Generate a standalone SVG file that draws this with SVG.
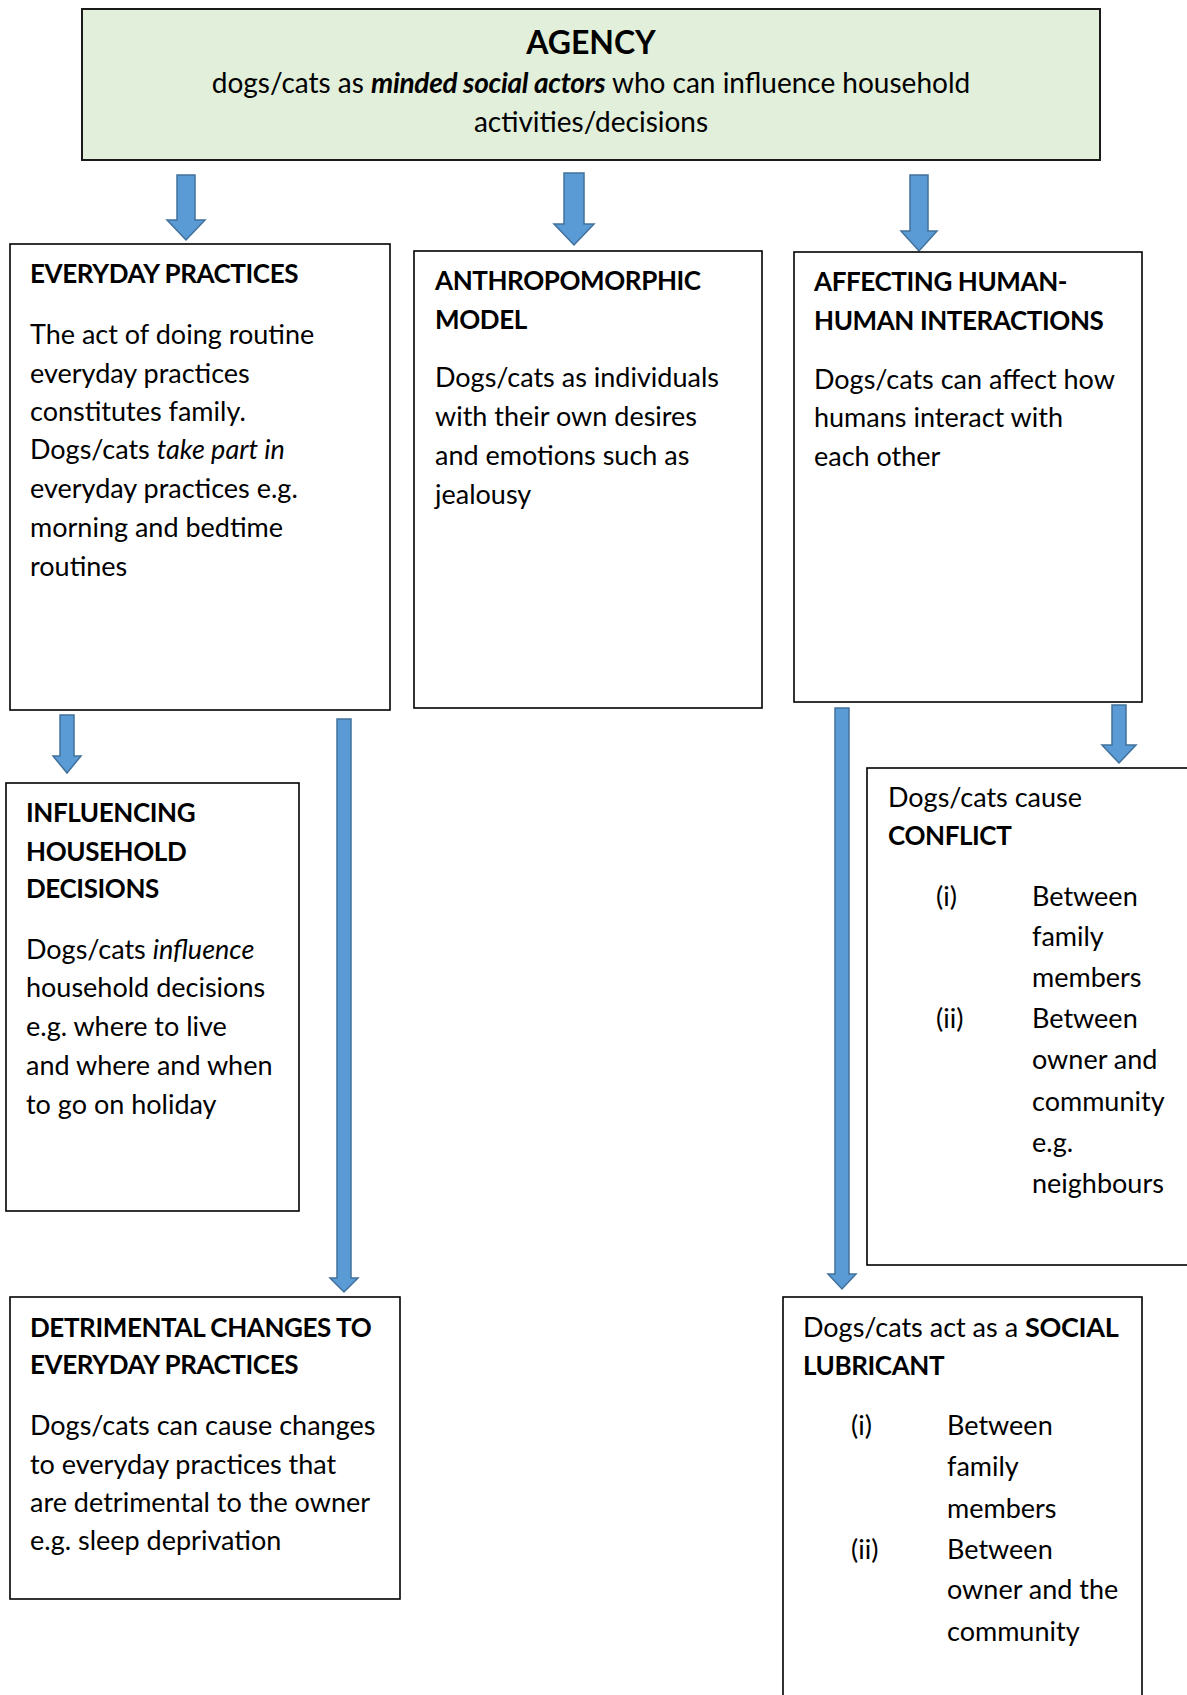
<svg xmlns="http://www.w3.org/2000/svg" width="1187" height="1695" viewBox="0 0 1187 1695">
  <style>
    text { font-family: Lato, "Noto Sans", sans-serif; font-size: 27px; fill: #000; }
    .b { font-weight: bold; font-size: 26px; letter-spacing: -0.4px; }
    tspan.b { font-size: inherit; letter-spacing: -0.3px; }
    .i { font-style: italic; }
    .box { fill: #fff; stroke: #000; stroke-width: 1.6; }
    .top { fill: #e2efda; stroke: #1a1a1a; stroke-width: 2; }
    .arrow { fill: #5b9bd5; stroke: #41719c; stroke-width: 1.5; }
  </style>
  <rect width="1187" height="1695" fill="#fff"/>

  <!-- block arrows -->
  <g id="connectors">
    <polygon class="arrow" points="177,175 195,175 195,220 205,220 186,240 167,220 177,220"/>
    <polygon class="arrow" points="564,173 584,173 584,224 594,224 574,245 554,224 564,224"/>
    <polygon class="arrow" points="910,175 928,175 928,231 937,231 919,251 901,231 910,231"/>
    <polygon class="arrow" points="60,715 74,715 74,756 81,756 67,773 53,756 60,756"/>
    <polygon class="arrow" points="337,719 351,719 351,1278 358,1278 344,1292 330,1278 337,1278"/>
    <polygon class="arrow" points="835,708 849,708 849,1274 856,1274 842,1289 828,1274 835,1274"/>
    <polygon class="arrow" points="1112,705 1126,705 1126,745 1136,745 1119,763 1102,745 1112,745"/>
  </g>

  <g id="agency">
    <rect class="top" x="82" y="9" width="1018" height="151"/>
    <text x="591" y="54" text-anchor="middle" style="font-weight:bold;font-size:32px">AGENCY</text>
    <text x="591" y="93" text-anchor="middle" style="font-size:28px">dogs/cats as <tspan class="b i">minded social actors</tspan> who can influence household</text>
    <text x="591" y="132" text-anchor="middle" style="font-size:28px">activities/decisions</text>
  </g>

  <g id="everyday-practices">
    <rect class="box" x="10" y="244" width="380" height="466"/>
    <text x="30" y="283" class="b">EVERYDAY PRACTICES</text>
    <text x="30" y="344">The act of doing routine</text>
    <text x="30" y="383">everyday practices</text>
    <text x="30" y="421">constitutes family.</text>
    <text x="30" y="459">Dogs/cats <tspan class="i">take part in</tspan></text>
    <text x="30" y="498">everyday practices e.g.</text>
    <text x="30" y="537">morning and bedtime</text>
    <text x="30" y="576">routines</text>
  </g>

  <g id="anthropomorphic-model">
    <rect class="box" x="414" y="251" width="348" height="457"/>
    <text x="435" y="290" class="b">ANTHROPOMORPHIC</text>
    <text x="435" y="329" class="b">MODEL</text>
    <text x="435" y="387">Dogs/cats as individuals</text>
    <text x="435" y="426">with their own desires</text>
    <text x="435" y="465">and emotions such as</text>
    <text x="435" y="504">jealousy</text>
  </g>

  <g id="affecting-interactions">
    <rect class="box" x="794" y="252" width="348" height="450"/>
    <text x="814" y="291" class="b">AFFECTING HUMAN-</text>
    <text x="814" y="330" class="b">HUMAN INTERACTIONS</text>
    <text x="814" y="389">Dogs/cats can affect how</text>
    <text x="814" y="427">humans interact with</text>
    <text x="814" y="466">each other</text>
  </g>

  <g id="household-decisions">
    <rect class="box" x="6" y="783" width="293" height="428"/>
    <text x="26" y="822" class="b">INFLUENCING</text>
    <text x="26" y="861" class="b">HOUSEHOLD</text>
    <text x="26" y="898" class="b">DECISIONS</text>
    <text x="26" y="959">Dogs/cats <tspan class="i">influence</tspan></text>
    <text x="26" y="997">household decisions</text>
    <text x="26" y="1036">e.g. where to live</text>
    <text x="26" y="1075">and where and when</text>
    <text x="26" y="1114">to go on holiday</text>
  </g>

  <g id="conflict">
    <rect class="box" x="867" y="768" width="330" height="497"/>
    <text x="888" y="807">Dogs/cats cause</text>
    <text x="888" y="845" class="b">CONFLICT</text>
    <text x="936" y="906">(i)</text>
    <text x="1032" y="906">Between</text>
    <text x="1032" y="946">family</text>
    <text x="1032" y="987">members</text>
    <text x="936" y="1028">(ii)</text>
    <text x="1032" y="1028">Between</text>
    <text x="1032" y="1069">owner and</text>
    <text x="1032" y="1111">community</text>
    <text x="1032" y="1152">e.g.</text>
    <text x="1032" y="1193">neighbours</text>
  </g>

  <g id="detrimental-changes">
    <rect class="box" x="10" y="1297" width="390" height="302"/>
    <text x="30" y="1337" class="b">DETRIMENTAL CHANGES TO</text>
    <text x="30" y="1374" class="b">EVERYDAY PRACTICES</text>
    <text x="30" y="1435">Dogs/cats can cause changes</text>
    <text x="30" y="1474">to everyday practices that</text>
    <text x="30" y="1512">are detrimental to the owner</text>
    <text x="30" y="1550">e.g. sleep deprivation</text>
  </g>

  <g id="social-lubricant">
    <rect class="box" x="783" y="1297" width="359" height="420"/>
    <text x="803" y="1337">Dogs/cats act as a <tspan class="b">SOCIAL</tspan></text>
    <text x="803" y="1375" class="b">LUBRICANT</text>
    <text x="851" y="1435">(i)</text>
    <text x="947" y="1435">Between</text>
    <text x="947" y="1476">family</text>
    <text x="947" y="1518">members</text>
    <text x="851" y="1559">(ii)</text>
    <text x="947" y="1559">Between</text>
    <text x="947" y="1599">owner and the</text>
    <text x="947" y="1641">community</text>
  </g>
</svg>
